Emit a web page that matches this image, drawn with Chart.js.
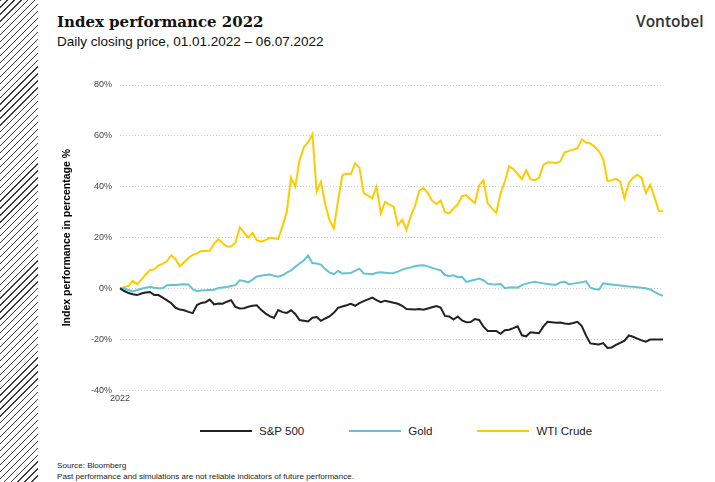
<html>
<head>
<title>Index performance 2022</title>
<script src="https://cdn.jsdelivr.net/npm/chart.js@4.4.0/dist/chart.umd.min.js"></script>
<style>
  body { margin: 0; width: 715px; height: 482px; background: #fff; position: relative; overflow: hidden;
         font-family: 'Liberation Sans', Arial, sans-serif; color: #111; }
  #hatch { position: absolute; left: 0; top: 0; width: 38px; height: 482px;
           background: repeating-linear-gradient(135deg, #3a3a3a 0px, #3a3a3a 0.9px, #fff 0.9px, #fff 4.9px); }
  #title { position: absolute; left: 57px; top: 13px; font-family: 'DejaVu Serif', serif; font-weight: bold; font-size: 15px; }
  #subtitle { position: absolute; left: 57px; top: 34px; font-size: 13.5px; }
  #logo { position: absolute; left: 636px; top: 10px; font-family: 'Open Sans', sans-serif; font-weight: 600; font-size: 15.5px; color: #333; }
  #wrap { position: absolute; left: 40px; top: 62px; width: 675px; height: 353px; }
  #legend { position: absolute; left: 200px; top: 425px; display: flex; gap: 45px; font-size: 11.5px; color: #222; }
  #legend .item { display: flex; align-items: center; }
  #legend .line { width: 52px; height: 2px; margin-right: 7px; }
  #source { position: absolute; left: 57px; top: 460px; font-size: 8.1px; line-height: 11px; color: #222; }
</style>
</head>
<body>
<div id="hatch"></div>
<div id="title">Index performance 2022</div>
<div id="subtitle">Daily closing price, 01.01.2022 – 06.07.2022</div>
<div id="logo">Vontobel</div>
<div id="wrap"><canvas id="myChart"></canvas></div>
<div id="legend"></div>
<div id="source">Source: Bloomberg<br>Past performance and simulations are not reliable indicators of future performance.</div>
<script>
    // values, % change since 01.01.2022, one per trading day
    var spx = [0,-1.0,-1.8,-2.3,-2.6,-2.0,-1.6,-1.4,-2.6,-2.6, -3.6,-4.7,-5.8,-7.6,-8.3,-8.6,-9.2,-9.7,-6.5,-5.7,
        -5.4,-4.4,-6.3,-5.9,-6.0,-5.2,-4.6,-7.3,-7.9,-7.8, -7.2,-6.8,-6.6,-8.4,-9.8,-10.9,-11.6,-8.5,-9.3,-9.6,
        -8.6,-10.0,-12.4,-12.7,-13.0,-11.5,-11.2,-12.7,-11.8,-11.0, -9.6,-7.6,-7.1,-6.6,-6.0,-6.8,-5.8,-5.0,-4.3,-3.6,
        -4.6,-5.4,-4.8,-5.2,-5.6,-6.0,-6.8,-8.1,-8.2,-8.3, -8.1,-8.4,-7.9,-7.4,-6.9,-7.5,-10.8,-11.0,-12.2,-11.0,
        -12.6,-13.3,-13.2,-12.0,-12.4,-15.0,-16.7,-16.7,-16.7,-17.8, -16.4,-16.2,-15.6,-14.9,-18.4,-18.8,-17.2,-17.4,-17.6,-15.0,
        -13.1,-13.3,-13.5,-13.4,-13.8,-14.0,-13.6,-13.1,-14.8,-18.5, -21.6,-21.8,-22.0,-21.5,-23.4,-23.2,-22.2,-21.4,-20.5,-18.5,
        -19.0,-19.7,-20.4,-20.9,-20.1,-20.1,-20.1,-20.1];
    var gold = [0,0,-0.6,-1.2,-0.6,-0.1,0.3,0.6,0.3,0.1, 0.1,1.3,1.4,1.4,1.6,1.7,1.6,-0.3,-1.1,-0.8,
        -0.7,-0.6,-0.5,0.2,0.4,0.6,1.0,1.3,3.2,2.9, 2.4,3.5,4.7,5.0,5.3,5.5,5.0,4.6,5.2,6.2,
        7.1,8.5,9.8,11.0,13.0,10.0,9.8,9.4,7.6,6.3, 5.6,6.9,5.9,6.0,6.1,7.0,7.8,5.9,5.8,5.6,
        6.2,6.4,6.2,6.0,6.1,6.6,7.4,7.9,8.3,8.8, 9.0,9.1,8.7,8.1,7.6,7.1,5.3,4.9,5.2,4.4,
        4.6,2.6,3.0,3.4,3.9,3.2,1.9,1.7,1.6,1.8, 0.1,0.4,0.5,0.3,1.3,1.9,2.3,2.6,2.3,2.0,
        1.8,1.6,1.5,2.4,2.6,1.7,1.9,2.2,2.4,2.9, 0.3,-0.2,-0.5,2.0,1.8,1.6,1.4,1.2,1.0,0.8,
        0.7,0.5,0.3,0.1,-0.4,-1.3,-2.2,-2.9];
    var wti = [0,0.5,1.0,3.0,1.7,3.5,5.5,7.2,7.5,9.0, 9.8,10.8,13.1,11.5,8.7,10.3,12.0,13.2,13.8,14.7,
        14.7,14.8,17.5,19.4,17.8,16.5,16.5,18.0,24.0,22.0, 20.0,21.8,19.0,18.4,19.0,19.9,19.7,19.4,24.5,30.0,
        43.5,40.0,50.5,55.5,57.5,60.6,38.0,42.0,33.0,27.0, 23.6,34.5,44.5,45.2,45.0,49.2,47.5,37.5,36.5,35.4,
        40.0,29.5,34.0,33.0,32.2,24.9,27.0,23.0,28.5,32.5, 38.5,39.5,37.5,34.5,33.2,34.5,30.0,29.5,31.5,33.0,
        36.4,36.6,35.0,33.5,40.5,42.5,33.5,31.5,29.7,37.4, 42.0,48.0,47.0,45.0,43.0,46.5,43.0,42.6,43.5,48.5,
        49.6,49.5,49.3,50.0,53.5,54.1,54.6,55.1,58.6,57.4, 57.0,55.7,54.0,51.0,42.3,42.5,43.2,42.0,35.4,41.5,
        43.5,44.7,43.5,37.5,40.8,36.0,30.5,30.4];
    var seriesNames = ['S&P 500', 'Gold', 'WTI Crude'];
    var seriesColors = ['#222222', '#63c3d2', '#fccc00'];
    var yTicks = [-40, -20, 0, 20, 40, 60, 80];
    var firstLabel = '2022';

    // only the first day gets a label on the x axis
    var labels = wti.map(function (v, i) { return i === 0 ? firstLabel : ''; });

    Chart.defaults.font.family = "'Liberation Sans', Arial, sans-serif";

    var ctx = document.getElementById('myChart').getContext('2d');
    var chart = new Chart(ctx, {
        type: 'line',
        data: {
            labels: labels,
            datasets: [spx, gold, wti].map(function (d, i) {
                return {
                    label: seriesNames[i],
                    data: d,
                    borderColor: seriesColors[i],
                    backgroundColor: seriesColors[i],
                    borderWidth: 2,
                    pointRadius: 0,
                    tension: 0
                };
            })
        },
        options: {
            responsive: true,
            maintainAspectRatio: false,
            animation: false,
            layout: { padding: { top: 23, right: 52, bottom: 8, left: 0 } },
            plugins: { legend: { display: false }, tooltip: { enabled: false } },
            scales: {
                x: {
                    grid: { display: false, drawTicks: false },
                    border: { display: false },
                    ticks: { autoSkip: false, maxRotation: 0, padding: 3, color: '#444', font: { size: 9 } }
                },
                y: {
                    min: yTicks[0],
                    max: yTicks[yTicks.length - 1],
                    afterBuildTicks: function (axis) {
                        axis.ticks = yTicks.map(function (v) { return { value: v }; });
                    },
                    afterFit: function (axis) { axis.width = 80; },
                    grid: { color: '#cfcfcf', drawTicks: false },
                    border: { display: false, dash: [1, 2] },
                    ticks: {
                        padding: 8, color: '#444', font: { size: 9 },
                        callback: function (v) { return v + '%'; }
                    },
                    title: {
                        display: true,
                        text: 'Index performance in percentage %',
                        color: '#000',
                        font: { size: 10.5, weight: 'bold' },
                        padding: { top: 21, bottom: 0 }
                    }
                }
            }
        }
    });

    // legend below the chart, built from the datasets
    var legend = document.getElementById('legend');
    chart.data.datasets.forEach(function (ds) {
        var item = document.createElement('div');
        item.className = 'item';
        item.innerHTML = '<span class="line" style="background:' + ds.borderColor + '"></span>' + ds.label;
        legend.appendChild(item);
    });
</script>
</body>
</html>
